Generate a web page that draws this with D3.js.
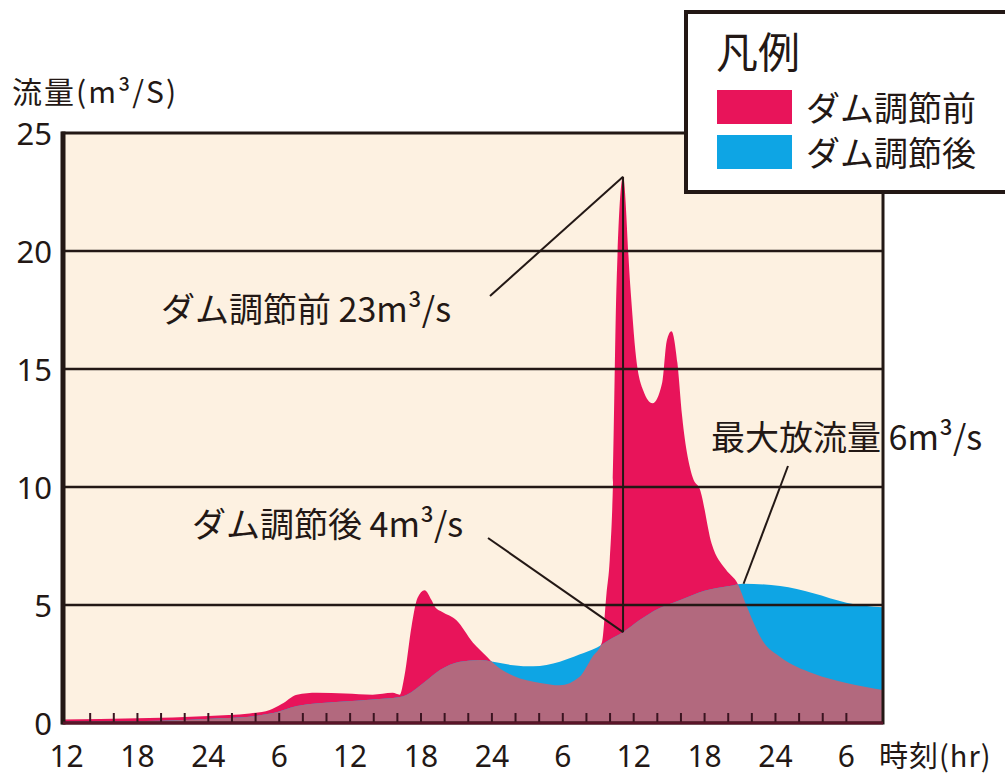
<!DOCTYPE html>
<html>
<head>
<meta charset="utf-8">
<script src="https://cdn.jsdelivr.net/npm/d3@7"></script>
<style>
	body { margin: 0; background: #fff; }
	text { font-family: "Noto Sans CJK JP", "Noto Sans", sans-serif; fill: #231815; }
</style>
</head>
<body>
<svg id="chart" width="1005" height="778"></svg>
<script>

// flow before dam regulation (hours from first tick, m3/s)
var beforeHours = [-0.3, 6, 12, 15.5, 17.2, 18.2, 19.5, 21.2, 23.6, 25.9, 27.6, 28.2, 28.6, 29.2, 29.7, 30.3, 30.9, 31.2, 31.8, 33.0, 34.4, 35.6, 36.2, 37.8, 40.1, 41.75, 43.4, 44.5, 45.3, 45.7, 45.97, 46.25, 46.55, 47.1, 47.7, 48.2, 48.8, 49.6, 50.4, 50.8, 51.2, 51.7, 52.1, 53.0, 53.6, 54.6, 55.8, 56.8, 57.6, 58.9, 60.4, 63.2, 66.0, 69.1];
var beforeFlow  = [0.15, 0.2, 0.3, 0.4, 0.55, 0.8, 1.2, 1.28, 1.25, 1.2, 1.28, 1.2, 2.0, 4.1, 5.3, 5.63, 5.2, 4.9, 4.7, 4.35, 3.4, 2.8, 2.5, 2.0, 1.7, 1.6, 1.95, 2.8, 3.4, 5.5, 6.9, 10.2, 18.6, 23.15, 18.6, 15.5, 14.1, 13.55, 14.4, 16.2, 16.6, 15.25, 13.0, 10.4, 9.9, 7.6, 6.5, 5.9, 4.9, 3.5, 2.8, 2.1, 1.7, 1.4];

// flow after dam regulation
var afterHours = [-0.3, 8, 13, 16, 17.5, 19.5, 23.1, 25.9, 28.2, 28.8, 30.2, 31.6, 33.3, 35.0, 36.1, 37.8, 39.5, 41.75, 43.4, 44.9, 46.2, 47.1, 48.5, 49.7, 51.9, 54.0, 56.1, 57.3, 60.4, 63.2, 66.0, 69.1];
var afterFlow  = [0.05, 0.1, 0.2, 0.3, 0.42, 0.72, 0.9, 1.0, 1.1, 1.2, 1.7, 2.25, 2.6, 2.67, 2.6, 2.45, 2.4, 2.6, 2.9, 3.2, 3.6, 3.85, 4.36, 4.75, 5.2, 5.6, 5.8, 5.9, 5.8, 5.5, 5.1, 4.9];

var yTicks = [0, 5, 10, 15, 20, 25];
var xLabelHours = [0, 6, 12, 18, 24, 30, 36, 42, 48, 54, 60, 66];
var xLabels = ['12', '18', '24', '6', '12', '18', '24', '6', '12', '18', '24', '6'];
var smallTickHours = d3.range(2, 67, 2);

var legendNames = ['ダム調節前', 'ダム調節後'];

var colBefore = '#e8145a',
	colAfter  = '#0ea5e4',
	colBoth   = '#b2697e',
	colPlot   = '#fdf1e1',
	colInk    = '#231815';

var svg = d3.select('#chart');

var x = d3.scaleLinear().domain([-0.3, 69.1]).range([63, 883]);
var y = d3.scaleLinear().domain([0, 25]).range([723, 133]);

var before = beforeHours.map(function(h, i) { return { h: h, v: beforeFlow[i] }; });
var after  = afterHours.map(function(h, i) { return { h: h, v: afterFlow[i] }; });

var area = d3.area()
	.x(function(d) { return x(d.h); })
	.y0(y(0))
	.y1(function(d) { return y(d.v); })
	.curve(d3.curveMonotoneX);

// plot background
svg.append('rect')
	.attr('x', x.range()[0])
	.attr('y', y(25))
	.attr('width', x.range()[1] - x.range()[0])
	.attr('height', y(0) - y(25))
	.attr('fill', colPlot);

var defs = svg.append('defs');
defs.append('clipPath')
	.attr('id', 'before-clip')
	.append('path')
	.attr('d', area(before));

svg.append('path').attr('d', area(before)).attr('fill', colBefore);
svg.append('path').attr('d', area(after)).attr('fill', colAfter);
// overlap of both series
svg.append('path')
	.attr('d', area(after))
	.attr('fill', colBoth)
	.attr('clip-path', 'url(#before-clip)');

// grid lines
svg.append('g')
	.selectAll('line')
	.data(yTicks.filter(function(t) { return t > 0 && t < 25; }))
	.enter().append('line')
	.attr('x1', x.range()[0])
	.attr('x2', x.range()[1])
	.attr('y1', function(d) { return y(d); })
	.attr('y2', function(d) { return y(d); })
	.attr('stroke', colInk)
	.attr('stroke-width', 2.5);

// small ticks on the bottom
svg.append('g')
	.selectAll('line')
	.data(smallTickHours)
	.enter().append('line')
	.attr('x1', function(d) { return x(d); })
	.attr('x2', function(d) { return x(d); })
	.attr('y1', y(0) - 10)
	.attr('y2', y(0))
	.attr('stroke', '#3a1420')
	.attr('stroke-width', 2);

// frame
svg.append('rect')
	.attr('x', x.range()[0])
	.attr('y', y(25))
	.attr('width', x.range()[1] - x.range()[0])
	.attr('height', y(0) - y(25))
	.attr('fill', 'none')
	.attr('stroke', colInk)
	.attr('stroke-width', 3);
svg.append('line')
	.attr('x1', x.range()[0]).attr('x2', x.range()[0])
	.attr('y1', y(25) - 1.5).attr('y2', y(0) + 1.5)
	.attr('stroke', colInk)
	.attr('stroke-width', 5);
svg.append('line')
	.attr('x1', x.range()[0]).attr('x2', x.range()[1])
	.attr('y1', y(0)).attr('y2', y(0))
	.attr('stroke', '#5a1428')
	.attr('stroke-width', 3);

// y labels
svg.append('g')
	.selectAll('text')
	.data(yTicks)
	.enter().append('text')
	.attr('x', 52)
	.attr('y', function(d) { return y(d) + 12; })
	.attr('text-anchor', 'end')
	.style('font-family', '"Noto Sans", sans-serif')
	.style('font-size', '31px')
	.text(function(d) { return d; });

// x labels
svg.append('g')
	.selectAll('text')
	.data(xLabelHours)
	.enter().append('text')
	.attr('x', function(d) { return x(d); })
	.attr('y', 767)
	.attr('text-anchor', 'middle')
	.style('font-family', '"Noto Sans", sans-serif')
	.style('font-size', '30px')
	.text(function(d, i) { return xLabels[i]; });

svg.append('text')
	.attr('x', 879)
	.attr('y', 767)
	.style('font-size', '29px')
	.style('letter-spacing', '1px')
	.text('時刻(hr)');

svg.append('text')
	.attr('x', 12)
	.attr('y', 103)
	.style('font-size', '30px')
	.style('letter-spacing', '2px')
	.text('流量(m³/S)');

// annotations
var peakBefore = before[33];
var afterAtPeak = after[21];
var peakAfter = after[27];

var ann = svg.append('g')
	.attr('stroke', colInk)
	.attr('stroke-width', 2)
	.attr('fill', 'none');

ann.append('line')
	.attr('x1', 490).attr('y1', 296)
	.attr('x2', x(peakBefore.h)).attr('y2', y(peakBefore.v));
ann.append('line')
	.attr('x1', x(peakBefore.h)).attr('y1', y(peakBefore.v))
	.attr('x2', x(peakBefore.h)).attr('y2', y(afterAtPeak.v));
ann.append('line')
	.attr('x1', 488).attr('y1', 538)
	.attr('x2', x(peakBefore.h)).attr('y2', y(afterAtPeak.v));
ann.append('line')
	.attr('x1', 788).attr('y1', 466)
	.attr('x2', x(peakAfter.h)).attr('y2', y(peakAfter.v));

svg.append('text')
	.attr('x', 161)
	.attr('y', 322)
	.style('font-size', '34px')
	.text('ダム調節前 23m³/s');

svg.append('text')
	.attr('x', 192)
	.attr('y', 537)
	.style('font-size', '34px')
	.text('ダム調節後 4m³/s');

svg.append('text')
	.attr('x', 711)
	.attr('y', 450)
	.style('font-size', '34px')
	.text('最大放流量 6m³/s');

// legend
var legend = svg.append('g');
legend.append('rect')
	.attr('x', 686)
	.attr('y', 12)
	.attr('width', 340)
	.attr('height', 180)
	.attr('fill', '#fff')
	.attr('stroke', colInk)
	.attr('stroke-width', 4);
legend.append('text')
	.attr('x', 716)
	.attr('y', 68)
	.style('font-size', '42px')
	.text('凡例');
legend.selectAll('.swatch')
	.data(legendNames)
	.enter().append('rect')
	.attr('class', 'swatch')
	.attr('x', 717)
	.attr('y', function(d, i) { return 90 + i * 45; })
	.attr('width', 75)
	.attr('height', 34)
	.attr('fill', function(d, i) { return i === 0 ? colBefore : colAfter; });
legend.selectAll('.lbl')
	.data(legendNames)
	.enter().append('text')
	.attr('class', 'lbl')
	.attr('x', 806)
	.attr('y', function(d, i) { return 121 + i * 45; })
	.style('font-size', '34px')
	.text(function(d) { return d; });

</script>
</body>
</html>
